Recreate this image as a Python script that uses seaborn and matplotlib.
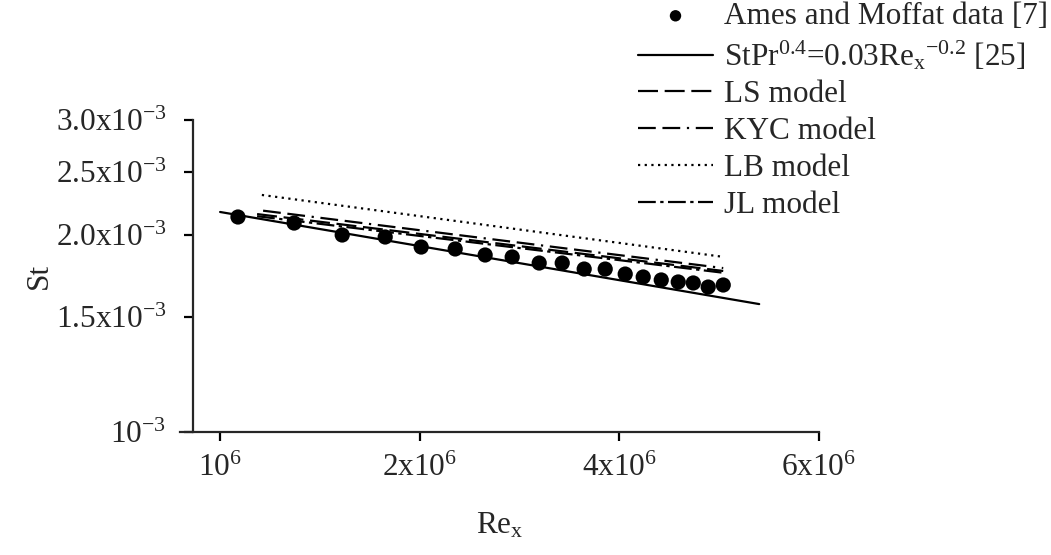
import matplotlib
matplotlib.use("Agg")
import matplotlib.pyplot as plt
import pandas as pd
import seaborn as sns

# Ames and Moffat data [7]
ames_re = [1.064e6, 1.293e6, 1.528e6, 1.774e6, 2.010e6, 2.262e6, 2.510e6, 2.757e6,
           3.028e6, 3.280e6, 3.540e6, 3.808e6, 4.082e6, 4.345e6, 4.626e6, 4.907e6,
           5.170e6, 5.445e6, 5.737e6]
ames_st = [2.132e-3, 2.087e-3, 2.001e-3, 1.987e-3, 1.918e-3, 1.905e-3, 1.865e-3, 1.852e-3,
           1.813e-3, 1.813e-3, 1.775e-3, 1.775e-3, 1.744e-3, 1.726e-3, 1.708e-3, 1.696e-3,
           1.690e-3, 1.666e-3, 1.678e-3]

# correlation and model curves (straight in log-log, end points)
corr_re = [1.0e6, 6.50e6]
corr_st = [2.170e-3, 1.569e-3]
ls_re = [1.137e6, 5.737e6]
ls_st = [2.154e-3, 1.763e-3]
kyc_re = [1.161e6, 5.737e6]
kyc_st = [2.180e-3, 1.781e-3]
lb_re = [1.156e6, 5.71e6]
lb_st = [2.304e-3, 1.854e-3]
jl_re = [1.137e6, 5.737e6]
jl_st = [2.138e-3, 1.752e-3]

x_ticks = [1e6, 2e6, 4e6, 8e6]
x_tick_labels = ["10$^{6}$", "2x10$^{6}$", "4x10$^{6}$", "6x10$^{6}$"]
y_ticks = [1e-3, 1.5e-3, 2e-3, 2.5e-3, 3e-3]
y_tick_labels = ["10$^{-3}$", "1.5x10$^{-3}$", "2.0x10$^{-3}$", "2.5x10$^{-3}$", "3.0x10$^{-3}$"]

sns.set_style("ticks")
plt.rcParams['font.family'] = ['Liberation Serif', 'DejaVu Serif']
plt.rcParams['mathtext.fontset'] = 'custom'
plt.rcParams['mathtext.rm'] = 'Liberation Serif'
plt.rcParams['mathtext.it'] = 'Liberation Serif:italic'
plt.rcParams['mathtext.bf'] = 'Liberation Serif:bold'
plt.rcParams['axes.linewidth'] = 1.6

FS = 22.5

fig = plt.figure(figsize=(10.51, 5.55), dpi=100)
ax = fig.add_axes([180 / 1051, 123 / 555, 639 / 1051, 312 / 555])

sns.scatterplot(x=ames_re, y=ames_st, ax=ax, color='black', s=120, edgecolor='none',
                label='Ames and Moffat data [7]', zorder=3)

curves = [
    (corr_re, corr_st, 'StPr$^{0.4}$=0.03Re$_{\\rm x}$$^{-0.2}$ [25]', '-'),
    (ls_re, ls_st, 'LS model', (0, (9, 3))),
    (kyc_re, kyc_st, 'KYC model', (0, (8, 3, 8, 3, 1, 3))),
    (lb_re, lb_st, 'LB model', (0, (1, 2))),
    (jl_re, jl_st, 'JL model', (0, (8, 2, 1.5, 2))),
]
for re_vals, st_vals, name, ls in curves:
    df = pd.DataFrame({'Re': re_vals, 'St': st_vals})
    sns.lineplot(data=df, x='Re', y='St', ax=ax, color='black', linewidth=1.6,
                 linestyle=ls, label=name, estimator=None, sort=False)

ax.set_xscale('log')
ax.set_yscale('log')
ax.set_xlim(0.870e6, 8e6)
ax.set_ylim(1e-3, 3e-3)
ax.spines['left'].set_position(('data', 0.911e6))
sns.despine(ax=ax)

ax.xaxis.set_minor_locator(matplotlib.ticker.NullLocator())
ax.yaxis.set_minor_locator(matplotlib.ticker.NullLocator())
ax.set_xticks(x_ticks)
ax.set_xticklabels(x_tick_labels)
ax.set_yticks(y_ticks)
ax.set_yticklabels(y_tick_labels)
ax.tick_params(axis='both', labelsize=FS, length=6.5, width=1.6, color='black')
ax.tick_params(axis='y', pad=13)
ax.tick_params(axis='x', pad=9)

ax.set_xlabel('Re$_{\\rm x}$', fontsize=FS, labelpad=20)
ax.set_ylabel('St', fontsize=FS, labelpad=1.5)

handles, labels = ax.get_legend_handles_labels()
ax.get_legend().remove()
fig.legend(handles, labels, loc='upper left', bbox_to_anchor=(638 / 1051, 1 - 2 / 555),
           frameon=False, fontsize=FS, borderpad=0, borderaxespad=0,
           handlelength=2.4, handletextpad=0.35, labelspacing=0.25, markerscale=0.75)

fig.savefig('out.png', dpi=100)
